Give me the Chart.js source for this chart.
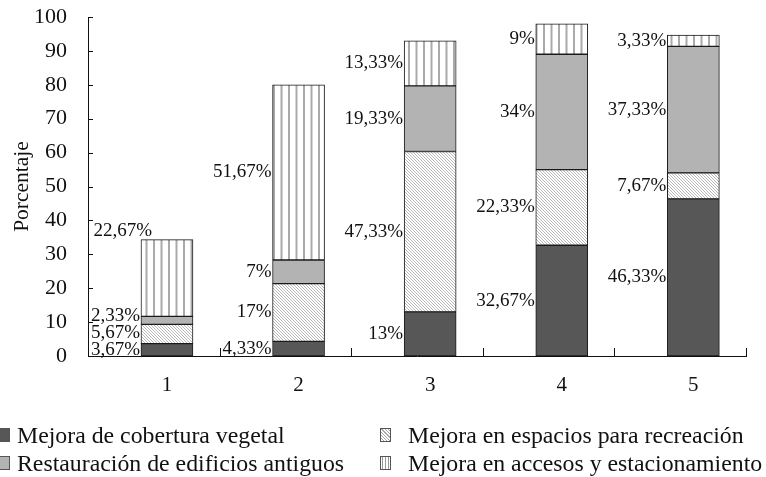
<!doctype html>
<html lang="es">
<head>
  <meta charset="utf-8">
  <title>Porcentaje por categoría</title>
  <script src="https://cdn.jsdelivr.net/npm/chart.js@4.4.1/dist/chart.umd.min.js"></script>
  <style>
    html, body { margin: 0; padding: 0; background: #fff; }
    #wrap { position: relative; width: 766px; height: 477px; overflow: hidden; }
    #legend { position: absolute; left: 0; top: 421px; width: 766px; font-family: "Liberation Serif", serif; font-size: 23.8px; color: #111; }
    .item { position: absolute; white-space: nowrap; line-height: 28px; }
    .sw { position: absolute; width: 11px; height: 14px; box-sizing: border-box; border: 1px solid #555; }
  </style>
</head>
<body>
<div id="wrap">
  <canvas id="chart" width="766" height="477"></canvas>
  <div id="legend"></div>
</div>
<script>
  const categories = ['1', '2', '3', '4', '5'];
  const cobertura = [3.67, 4.33, 13, 32.67, 46.33];
  const recreacion = [5.67, 17, 47.33, 22.33, 7.67];
  const edificios = [2.33, 7, 19.33, 34, 37.33];
  const accesos = [22.67, 51.67, 13.33, 9, 3.33];
  const seriesNames = [
    'Mejora de cobertura vegetal',
    'Mejora en espacios para recreación',
    'Restauración de edificios antiguos',
    'Mejora en accesos y estacionamiento'
  ];
  const yTicks = [0, 10, 20, 30, 40, 50, 60, 70, 80, 90, 100];

  // patterns
  function hatchPattern() {
    const c = document.createElement('canvas');
    c.width = 3; c.height = 3;
    const g = c.getContext('2d');
    g.fillStyle = '#fff'; g.fillRect(0, 0, 3, 3);
    g.fillStyle = '#b8b8b8';
    for (let k = 0; k < 3; k++) g.fillRect(k, k, 1, 1);
    return g.createPattern(c, 'repeat');
  }
  function stripePattern() {
    const c = document.createElement('canvas');
    c.width = 15; c.height = 4;
    const g = c.getContext('2d');
    g.fillStyle = '#fff'; g.fillRect(0, 0, 15, 4);
    g.fillStyle = '#aaaaaa';
    g.fillRect(3, 0, 2, 4);
    g.fillRect(10.5, 0, 2, 4);
    return g.createPattern(c, 'repeat');
  }

  const fills = ['#575757', hatchPattern(), '#b3b3b3', stripePattern()];
  const values = [cobertura, recreacion, edificios, accesos];

  const fmt = v => String(v).replace('.', ',') + '%';

  // label tweaks, like the hand-moved labels in the original
  const labelShift = { '3-0': [12, -47] };

  const segLabels = {
    id: 'segLabels',
    afterDatasetsDraw(chart) {
      const ctx = chart.ctx;
      ctx.save();
      ctx.font = '19px "Liberation Serif", serif';
      ctx.fillStyle = '#111';
      ctx.textAlign = 'right';
      ctx.textBaseline = 'middle';
      categories.forEach((c, i) => {
        let prevY = Infinity;
        chart.data.datasets.forEach((ds, d) => {
          const bar = chart.getDatasetMeta(d).data[i];
          const p = bar.getProps(['x', 'y', 'base', 'width'], true);
          let y = Math.min((p.y + p.base) / 2, prevY - 17);
          prevY = y;
          let x = p.x - p.width / 2 - 1;
          const s = labelShift[d + '-' + i];
          if (s) { x += s[0]; y += s[1]; }
          ctx.fillText(fmt(ds.data[i].y), x, y);
        });
      });
      // small inward tick marks on both axes
      const xs = chart.scales.x;
      const ys = chart.scales.y;
      const { left, bottom } = chart.chartArea;
      ctx.strokeStyle = '#111';
      ctx.lineWidth = 1;
      ctx.beginPath();
      categories.forEach((c, i) => {
        const px = Math.round(xs.getPixelForValue(i + 1.4)) + 0.5;
        ctx.moveTo(px, bottom);
        ctx.lineTo(px, bottom - 8);
      });
      yTicks.forEach(v => {
        const py = Math.round(ys.getPixelForValue(v)) + 0.5;
        ctx.moveTo(left, py);
        ctx.lineTo(left + 5, py);
      });
      ctx.stroke();
      ctx.restore();
    }
  };

  const data = {
    datasets: seriesNames.map((name, d) => ({
      label: name,
      data: values[d].map((v, i) => ({ x: i + 1, y: v })),
      backgroundColor: fills[d],
      borderColor: '#1a1a1a',
      borderWidth: 1,
      borderSkipped: false,
      barThickness: 52
    }))
  };

  const config = {
    type: 'bar',
    data,
    options: {
      responsive: false,
      animation: false,
      layout: { padding: { top: 17, right: 20, left: 0, bottom: 0 } },
      plugins: { legend: { display: false }, tooltip: { enabled: false } },
      scales: {
        x: {
          type: 'linear',
          stacked: true,
          offset: false,
          min: 0.4,
          max: 5.4,
          afterBuildTicks: s => { s.ticks = categories.map((c, i) => ({ value: i + 1 })); },
          afterFit: s => { s.height = 121; s.paddingLeft = 0; s.paddingRight = 0; },
          grid: { display: false },
          border: { display: true, color: '#111', width: 1 },
          ticks: {
            autoSkip: false,
            maxRotation: 0,
            padding: 9,
            color: '#111',
            font: { family: '"Liberation Serif", serif', size: 21 },
            callback: v => categories[v - 1]
          }
        },
        y: {
          stacked: true,
          min: 0,
          max: 100,
          afterBuildTicks: s => { s.ticks = yTicks.map(v => ({ value: v })); },
          afterFit: s => { s.width = 88; s.paddingTop = 0; s.paddingBottom = 0; },
          grid: { display: false },
          border: { display: true, color: '#111', width: 1 },
          title: {
            display: true,
            text: 'Porcentaje',
            color: '#111',
            font: { family: '"Liberation Serif", serif', size: 21.5 },
            padding: { top: 9, bottom: 0 }
          },
          ticks: {
            padding: 13,
            color: '#111',
            font: { family: '"Liberation Serif", serif', size: 22 }
          }
        }
      }
    },
    plugins: [segLabels]
  };

  new Chart(document.getElementById('chart'), config);

  // legend in two columns
  const legendCss = ['#575757',
    'repeating-linear-gradient(45deg, #fff 0 1.5px, #a8a8a8 1.5px 2.3px)',
    '#b3b3b3',
    'repeating-linear-gradient(90deg, #fff 0 1px, #9a9a9a 1px 2px, #fff 2px 3px)'];
  const legendPos = [[-1, 17, 0], [380, 408, 0], [-1, 17, 28], [380, 408, 28]];
  const legend = document.getElementById('legend');
  seriesNames.forEach((name, d) => {
    const sw = document.createElement('span');
    sw.className = 'sw';
    sw.style.background = legendCss[d];
    sw.style.left = legendPos[d][0] + 'px';
    sw.style.top = (legendPos[d][2] + 7) + 'px';
    const tx = document.createElement('div');
    tx.className = 'item';
    tx.textContent = name;
    tx.style.left = legendPos[d][1] + 'px';
    tx.style.top = legendPos[d][2] + 'px';
    legend.appendChild(sw);
    legend.appendChild(tx);
  });
</script>
</body>
</html>
